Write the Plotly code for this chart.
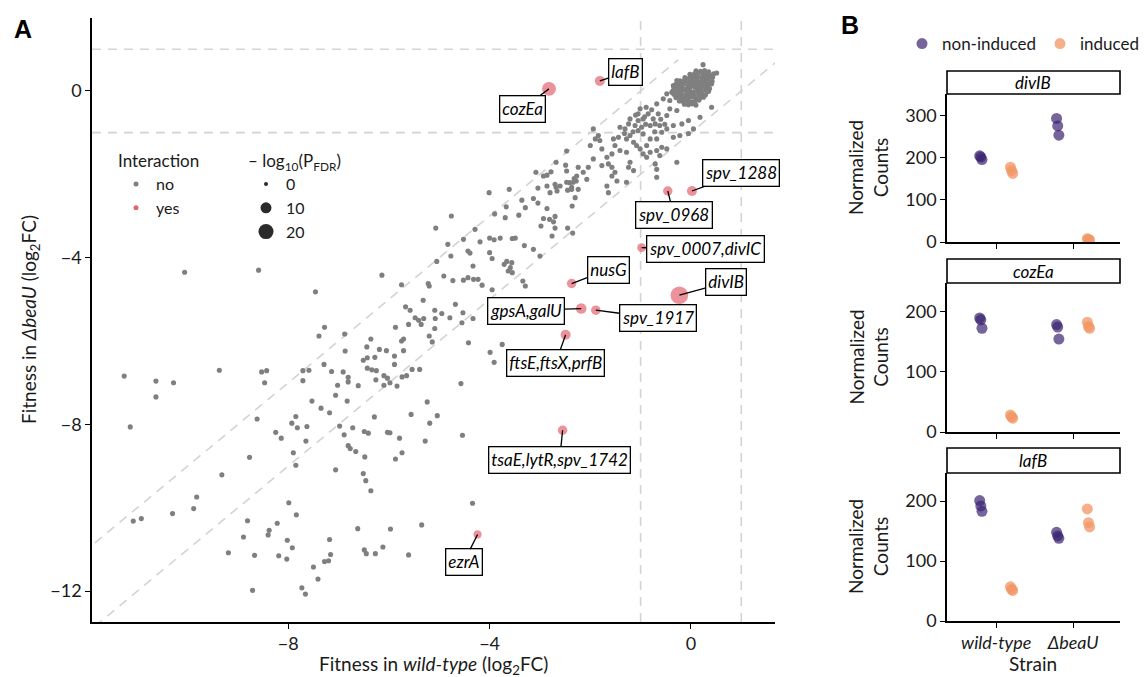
import plotly.graph_objects as go

FONT = "Lato"
W, H = 1146, 677

# ---------------- Panel A data (log2 fold-change fitness) ----------------
sparse_x = [-11.26, -10.63, -10.63, -10.28, -11.14, -9.37, -8.53, -8.43, -8.47, -7.39, -6.88, -6.36, -6.44, -6.19,
            -6.05, -6.51, -6.43, -6.28, -6.87, -7.29, -7.71, -7.59, -7.71, -7.14, -6.91, -6.81, -6.81, -7.02, -6.61,
            -6.43, -6.34, -6.26, -6.03, -5.98, -6.10, -7.06, -7.53, -7.35, -7.18, -6.83, -8.62, -8.25, -8.14, -7.93,
            -7.85, -7.82, -7.63, -7.65, -7.90, -7.85, -6.98, -6.89, -6.72, -6.81, -6.77, -6.66, -6.49, -6.41, -6.29,
            -6.03, -5.98, -6.48, -7.06, -6.51, -6.46, -6.36, -8.77, -9.32, -9.82, -9.88, -10.30, -11.08, -10.92,
            -7.99, -7.84, -8.81, -8.22, -8.38, -8.40, -8.89, -8.02, -7.92, -9.19, -8.67, -8.19, -8.03, -7.18, -7.16,
            -7.28, -7.20, -7.50, -7.41, -7.73, -7.66, -8.71, -6.62, -5.97, -6.49, -6.45, -6.27, -6.12,
            -5.24, -5.56, -5.04, -5.19, -5.79, -5.28, -4.54, -5.74, -5.87, -4.34, -5.35, -5.61,
            -10.06, -8.59]
sparse_y = [-6.84, -6.96, -7.34, -7.00, -8.06, -6.70, -6.74, -6.71, -7.00, -5.88, -5.83, -5.95, -6.14, -6.20,
            -6.23, -6.46, -6.40, -6.39, -6.24, -6.56, -6.71, -6.70, -6.95, -6.73, -6.74, -6.87, -6.98, -7.06, -7.07,
            -6.65, -6.69, -6.93, -6.89, -7.00, -7.06, -7.30, -7.44, -7.61, -7.72, -7.44, -7.87, -8.19, -8.33, -7.97,
            -7.81, -8.08, -8.05, -8.40, -8.68, -8.98, -8.04, -8.25, -8.08, -8.51, -8.58, -8.65, -8.17, -8.21, -7.82,
            -8.19, -8.20, -8.78, -9.09, -9.18, -9.35, -9.59, -8.79, -9.21, -9.74, -10.02, -10.14, -10.32, -10.26,
            -9.88, -10.17, -10.31, -10.37, -10.54, -10.65, -10.70, -10.78, -10.96, -11.08, -11.14, -11.15, -11.23,
            -10.76, -11.12, -11.29, -11.27, -11.42, -11.71, -11.92, -12.07, -11.98, -10.50, -10.51, -11.01, -11.10,
            -11.10, -10.94,
            -7.46, -7.76, -7.79, -7.97, -8.33, -8.40, -8.26, -8.68, -8.83, -9.89, -10.41, -11.13,
            -4.35, -4.30]

mid_x = [-2.47, -2.68, -3.08, -2.86, -2.78, -2.49, -2.47, -2.32, -2.28, -2.41, -2.37, -2.45, -2.24, -2.70, -2.68,
         -3.04, -4.01, -3.61, -3.36, -3.29, -3.67, -3.90, -3.69, -3.42, -3.13, -3.04, -2.86, -2.93, -2.81, -2.70,
         -2.73, -2.98, -2.70, -2.45, -2.35, -2.76, -2.36, -2.30, -4.76, -5.07, -4.29, -4.52, -4.19, -4.00, -3.91,
         -3.79, -3.55, -3.49, -3.31, -3.13, -3.00, -4.83, -4.77, -5.05, -4.43, -4.39, -4.00, -3.95, -4.33, -4.91,
         -4.73, -4.52, -4.43, -4.32, -4.23, -4.15, -3.95, -3.71, -3.66, -3.56, -3.59, -3.63, -3.55, -3.34, -3.29,
         -5.22, -5.20, -5.75, -6.14, -7.46, -5.32, -5.67, -5.58, -5.48, -5.41, -5.36, -5.31, -5.09, -5.08, -4.95,
         -4.68, -4.79, -4.53, -4.55, -4.33, -5.09, -5.20, -5.14, -4.42, -3.99, -3.91, -3.75, -4.57, -5.61, -5.87,
         -5.75, -5.71, -5.71, -5.89, -5.74, -5.65, -5.54, -5.39, -7.28, -5.89, -6.25, -6.10, -5.84]
mid_y = [-1.44, -1.71, -1.95, -2.02, -1.94, -1.78, -1.92, -2.10, -2.16, -2.20, -2.36, -2.38, -1.83, -2.24, -2.31,
         -2.33, -2.44, -2.36, -2.62, -2.80, -2.78, -2.95, -3.04, -2.98, -2.58, -2.69, -2.82, -3.06, -3.08, -3.01,
         -3.14, -3.24, -3.29, -3.29, -3.41, -3.48, -2.76, -2.56, -3.00, -3.29, -3.32, -3.56, -3.62, -3.53, -3.57,
         -3.53, -3.54, -3.53, -3.71, -3.80, -3.96, -3.68, -3.96, -4.09, -3.84, -3.89, -3.88, -4.02, -4.20, -4.44,
         -4.55, -4.54, -4.48, -4.52, -4.52, -4.66, -4.77, -4.16, -4.09, -4.12, -4.24, -4.32, -4.36, -4.56, -4.68,
         -4.62, -4.68, -4.65, -4.42, -4.82, -5.02, -5.18, -5.26, -5.44, -5.50, -5.60, -5.46, -5.26, -5.46, -5.34,
         -5.12, -5.44, -5.32, -5.56, -5.46, -5.70, -5.88, -6.02, -6.04, -6.27, -6.51, -6.08, -7.02, -5.60, -5.67,
         -6.00, -5.95, -6.23, -6.56, -6.86, -6.83, -6.68, -6.68, -5.67, -6.36, -6.71, -6.83, -7.08]

band_x = [0.24, 0.51, 0.41, 0.18, 0.05, -0.05, -0.22, -0.35, -0.18, -0.05, -0.28, -0.42, -0.48, -0.68, -0.65,
          -0.75, -0.85, -0.89, -1.01, -1.05, -0.95, -1.05, -1.11, -0.98, -0.81, -0.71, -0.62, -0.58, -0.68, -0.81,
          -0.95, -1.05, -0.88, -0.81, -0.68, -0.58, -0.48, -0.62, -0.28, -0.71, -0.68, -0.68, -0.48, -0.35, -0.42,
          -0.55, -0.48, -0.38, -0.35, -0.28, -1.21, -1.24, -1.31, -1.41, -1.44, -1.54, -1.28, -1.21, -1.14, -1.08,
          -1.01, -0.95, -0.88, -1.28, -1.41, -1.51, -1.57, -1.67, -1.77, -1.81, -1.94, -2.00, -1.77, -1.64, -1.57,
          -1.21, -1.24, -1.14, -1.51, -1.57, -1.47, -1.94, -2.04, -2.14, -2.07, -2.27, -2.34, -2.37, -2.47, -2.60,
          -2.66, -2.80, -2.86, -2.93, -1.90, -1.84, -2.24, -1.67, -1.64, -1.28, -0.78, -0.92, -0.60, -1.15, -1.32,
          -0.52, -0.72, -0.90, -1.10]
band_y = [0.63, 0.43, -0.39, -0.63, -0.91, -1.02, -1.07, -1.11, -0.79, -0.71, -0.47, -0.43, -0.59, -0.31, -0.55,
          -0.67, -0.55, -0.39, -0.43, -0.55, -0.67, -0.71, -0.83, -0.87, -0.83, -0.79, -0.83, -0.99, -1.15, -1.15,
          -1.03, -0.95, -1.31, -1.47, -1.43, -1.35, -1.39, -1.55, -1.71, -1.75, -1.88, -2.07, -0.91, -0.83, -0.23,
          -0.19, -0.07, -0.03, 0.13, 0.25, -0.67, -0.79, -0.91, -0.87, -1.11, -1.15, -1.15, -1.07, -1.23, -1.31,
          -1.39, -1.51, -1.59, -1.47, -1.43, -1.31, -1.51, -1.59, -1.39, -1.19, -0.91, -1.31, -1.79, -1.75, -1.83,
          -1.71, -1.83, -1.91, -1.95, -2.04, -2.16, -1.63, -1.83, -1.95, -2.12, -2.04, -2.19, -2.31, -2.19, -2.28,
          -2.40, -2.44, -2.28, -2.04, -1.15, -1.07, -2.36, -2.28, -2.44, -2.19, -0.45, -0.62, -0.68, -0.98, -1.02,
          -0.80, -0.98, -0.80, -0.58]

core_x = [0.10, 0.19, 0.27, 0.35,
          -0.02, 0.07, 0.13, 0.23, 0.30, 0.37, 0.45,
          -0.12, -0.03, 0.05, 0.12, 0.21, 0.28, 0.35, 0.43,
          -0.22, -0.13, -0.06, 0.03, 0.10, 0.19, 0.26, 0.33, 0.42,
          -0.30, -0.21, -0.14, -0.05, 0.02, 0.11, 0.18, 0.27, 0.34, 0.41,
          -0.34, -0.25, -0.18, -0.09, -0.02, 0.07, 0.14, 0.21, 0.30, 0.37,
          -0.36, -0.28, -0.19, -0.12, -0.03, 0.05, 0.12, 0.20, 0.29, 0.35,
          -0.34, -0.25, -0.18, -0.09, -0.02, 0.06, 0.15, 0.22, 0.29,
          -0.30, -0.21, -0.14, -0.05, 0.02, 0.11, 0.18, 0.25,
          -0.23, -0.16, -0.07, 0.01, 0.08, 0.16,
          -0.13, -0.05, 0.03, 0.10]
core_y = [0.48, 0.47, 0.49, 0.46,
          0.40, 0.41, 0.39, 0.42, 0.40, 0.38, 0.41,
          0.32, 0.31, 0.33, 0.30, 0.32, 0.34, 0.31, 0.33,
          0.24, 0.25, 0.23, 0.24, 0.26, 0.22, 0.25, 0.24, 0.23,
          0.16, 0.15, 0.17, 0.14, 0.16, 0.18, 0.15, 0.16, 0.14, 0.17,
          0.08, 0.07, 0.09, 0.06, 0.08, 0.10, 0.07, 0.09, 0.08, 0.06,
          0.00, 0.01, -0.01, 0.02, 0.00, -0.02, 0.01, 0.00, 0.02, -0.01,
          -0.08, -0.07, -0.09, -0.08, -0.06, -0.10, -0.08, -0.07, -0.09,
          -0.16, -0.15, -0.17, -0.16, -0.14, -0.18, -0.16, -0.15,
          -0.24, -0.25, -0.23, -0.26, -0.24, -0.22,
          -0.32, -0.33, -0.31, -0.34]

gray_p = 1.0  # typical -log10(P_FDR) of non-interacting genes

hit_genes = ["cozEa", "lafB", "spv_1288", "spv_0968", "spv_0007,divIC", "nusG", "divIB",
             "gpsA,galU", "spv_1917", "ftsE,ftsX,prfB", "tsaE,lytR,spv_1742", "ezrA"]
hit_x = [-2.82, -1.81, 0.02, -0.46, -0.98, -2.37, -0.23, -2.18, -1.89, -2.49, -2.55, -4.24]
hit_y = [0.05, 0.24, -2.40, -2.40, -3.76, -4.62, -4.90, -5.22, -5.26, -5.85, -8.14, -10.64]
hit_p = [17, 8, 8, 7, 6, 7, 28, 9, 7, 8, 7, 5]

size_breaks = [0, 10, 20]

# ---------------- Panel B data (normalized counts) ----------------
strains = ["wild-type", "ΔbeaU"]
panel_genes = ["divIB", "cozEa", "lafB"]
divIB_non_wt = [205, 202, 196]
divIB_non_beaU = [294, 276, 254]
divIB_ind_wt = [178, 170, 163]
divIB_ind_beaU = [8, 6, 5]
cozEa_non_wt = [189, 186, 172]
cozEa_non_beaU = [178, 174, 154]
cozEa_ind_wt = [28, 25, 23]
cozEa_ind_beaU = [182, 175, 172]
lafB_non_wt = [201, 192, 183]
lafB_non_beaU = [148, 142, 138]
lafB_ind_wt = [57, 53, 51]
lafB_ind_beaU = [187, 164, 157]
b_ymax = [352, 247, 247]


def diam(p):
    return (16 + 10.5 * p) ** 0.5


GRAY = "#7F7F7F"
RED = "#E2646F"
PURPLE = "rgba(59,36,112,0.70)"
ORANGE = "rgba(242,150,100,0.75)"
TXT = "#1a1a1a"

fig = go.Figure()

gx = sparse_x + mid_x + band_x + core_x
gy = sparse_y + mid_y + band_y + core_y
fig.add_trace(go.Scatter(x=gx, y=gy, mode="markers", showlegend=False, hoverinfo="skip",
                         marker=dict(color=GRAY, size=diam(gray_p), line=dict(width=0)),
                         xaxis="x", yaxis="y"))
fig.add_trace(go.Scatter(x=hit_x, y=hit_y, mode="markers", showlegend=False, text=hit_genes,
                         marker=dict(color=RED, size=[diam(p) for p in hit_p], line=dict(width=0)),
                         xaxis="x", yaxis="y"))

# legend entries
for name, col in [("no", GRAY), ("yes", RED)]:
    fig.add_trace(go.Scatter(x=[None], y=[None], mode="markers", name=name, legend="legend",
                             marker=dict(color=col, size=5), xaxis="x", yaxis="y"))
for b in size_breaks:
    fig.add_trace(go.Scatter(x=[None], y=[None], mode="markers", name=str(b), legend="legend2",
                             marker=dict(color="#2b2b2b", size=diam(b)), xaxis="x", yaxis="y"))

# label boxes (offsets in pixels from the point)
label_off = {"cozEa": (-27, 20), "lafB": (26, -9), "spv_1288": (49, -18), "spv_0968": (6, 24),
             "spv_0007,divIC": (64, 1), "nusG": (37, -14), "divIB": (47, -13), "gpsA,galU": (-55, 2),
             "spv_1917": (62, 8), "ftsE,ftsX,prfB": (-10, 28), "tsaE,lytR,spv_1742": (-3, 30),
             "ezrA": (-14, 28)}
annotations = []
for g, x, y in zip(hit_genes, hit_x, hit_y):
    ax, ay = label_off[g]
    annotations.append(dict(x=x, y=y, xref="x", yref="y", text="<i>%s</i>" % g, showarrow=True,
                            arrowhead=0, arrowwidth=1.3, arrowcolor="black", ax=ax, ay=ay,
                            bgcolor="white", bordercolor="black", borderwidth=1.3, borderpad=2,
                            font=dict(family=FONT, size=17, color="black")))

# Panel B traces
b_sets = [
    (divIB_non_wt, divIB_non_beaU, divIB_ind_wt, divIB_ind_beaU),
    (cozEa_non_wt, cozEa_non_beaU, cozEa_ind_wt, cozEa_ind_beaU),
    (lafB_non_wt, lafB_non_beaU, lafB_ind_wt, lafB_ind_beaU),
]
rep_shift = [-0.015, 0.0, 0.015]
for i, (nw, nb, iw, ib) in enumerate(b_sets):
    xa = "x%d" % (i + 2)
    ya = "y%d" % (i + 2)
    for vals_wt, vals_b, dodge, col, nm, lg in [(nw, nb, -0.2, PURPLE, "non-induced", "legend3"),
                                               (iw, ib, 0.2, ORANGE, "induced", "legend4")]:
        xs = [1 + dodge + s for s in rep_shift] + [2 + dodge + s for s in rep_shift]
        fig.add_trace(go.Scatter(x=xs, y=vals_wt + vals_b, mode="markers", name=nm,
                                 showlegend=(i == 0), legend=lg,
                                 marker=dict(color=col, size=11, line=dict(width=0)),
                                 xaxis=xa, yaxis=ya))

# ---------------- Layout ----------------
def px_x(p):
    return p / W


def px_y(p):
    return 1 - p / H


axis_common = dict(showline=True, linecolor="black", linewidth=1.6, ticks="outside", ticklen=5,
                   tickwidth=1.3, tickcolor="black", showgrid=False, zeroline=False, automargin=False,
                   tickfont=dict(family=FONT, size=18, color=TXT))

layout = dict(width=W, height=H, margin=dict(l=0, r=0, t=0, b=0, autoexpand=False), plot_bgcolor="white",
              paper_bgcolor="white", font=dict(family=FONT, color=TXT))
layout["xaxis"] = dict(axis_common, domain=[px_x(92), px_x(775)], range=[-11.9, 1.67],
                       tickvals=[-8, -4, 0], anchor="y")
layout["yaxis"] = dict(axis_common, domain=[px_y(622), px_y(18)], range=[-12.74, 1.75],
                       tickvals=[-12, -8, -4, 0], anchor="x")

b_dom = [(94, 242), (283, 432), (473, 621)]
for i in range(3):
    top, bot = b_dom[i]
    layout["xaxis%d" % (i + 2)] = dict(axis_common, domain=[px_x(947), px_x(1120)], range=[0.36, 2.61],
                                       tickvals=[1, 2], ticktext=["<i>%s</i>" % s for s in strains],
                                       showticklabels=(i == 2), anchor="y%d" % (i + 2))
    layout["yaxis%d" % (i + 2)] = dict(axis_common, domain=[px_y(bot), px_y(top)], range=[0, b_ymax[i]],
                                       tickvals=[0, 100, 200, 300] if b_ymax[i] > 300 else [0, 100, 200],
                                       anchor="x%d" % (i + 2))

# reference lines
dash = dict(color="#D3D3D3", width=1.6, dash="9px,7px")
shapes = []
for yv in [1, -1]:
    shapes.append(dict(type="line", xref="x", yref="y", x0=-11.9, x1=1.67, y0=yv, y1=yv, line=dash, layer="below"))
for xv in [1, -1]:
    shapes.append(dict(type="line", xref="x", yref="y", x0=xv, x1=xv, y0=-12.74, y1=1.75, line=dash, layer="below"))
for off in [1, -1]:
    shapes.append(dict(type="line", xref="x", yref="y", x0=-13.8, x1=0.75 - off, y0=-13.8 + off, y1=0.75,
                       line=dash, layer="below"))


def note(xp, yp, text, size, angle=0, family=FONT, color=TXT):
    return dict(x=px_x(xp), y=px_y(yp), xref="paper", yref="paper", xanchor="center", yanchor="middle",
                text=text, showarrow=False, textangle=angle, font=dict(family=family, size=size, color=color))


# strips for panel B
strips = [(71, 94), (259, 283), (448, 473)]
for i, (t, b) in enumerate(strips):
    shapes.append(dict(type="rect", xref="paper", yref="paper", x0=px_x(947), x1=px_x(1120),
                       y0=px_y(b), y1=px_y(t), line=dict(color="black", width=1.6), fillcolor="white"))
    annotations.append(note(1033, (t + b) / 2, "<i>%s</i>" % panel_genes[i], 17, color="black"))
    top, bot = b_dom[i]
    annotations.append(note(868, (top + bot) / 2, "Normalized<br>Counts", 19, angle=-90))

annotations += [
    note(433, 665, "Fitness in <i>wild-type</i> (log<sub>2</sub>FC)", 19),
    note(30, 320, "Fitness in <i>ΔbeaU</i> (log<sub>2</sub>FC)", 19, angle=-90),
    note(1033, 663, "Strain", 19),
    note(23, 29, "<b>A</b>", 25, family="Liberation Sans", color="black"),
    note(850, 25, "<b>B</b>", 25, family="Liberation Sans", color="black"),
]

leg_common = dict(bgcolor="rgba(0,0,0,0)", xanchor="left", yanchor="top", tracegroupgap=0,
                  font=dict(family=FONT, size=16, color=TXT), itemsizing="trace")
layout["legend"] = dict(leg_common, x=px_x(116), y=px_y(145),
                        title=dict(text="Interaction", font=dict(family=FONT, size=17, color=TXT)))
layout["legend2"] = dict(leg_common, x=px_x(246), y=px_y(145),
                         title=dict(text="– log<sub>10</sub>(P<sub>FDR</sub>)",
                                    font=dict(family=FONT, size=17, color=TXT)))
layout["legend3"] = dict(leg_common, orientation="h", x=px_x(902), y=px_y(44), yanchor="middle",
                         font=dict(family=FONT, size=17, color=TXT))
layout["legend4"] = dict(leg_common, orientation="h", x=px_x(1040), y=px_y(44), yanchor="middle",
                         font=dict(family=FONT, size=17, color=TXT))
layout["shapes"] = shapes
layout["annotations"] = annotations

fig.update_layout(**layout)
fig.write_html("out.html")
